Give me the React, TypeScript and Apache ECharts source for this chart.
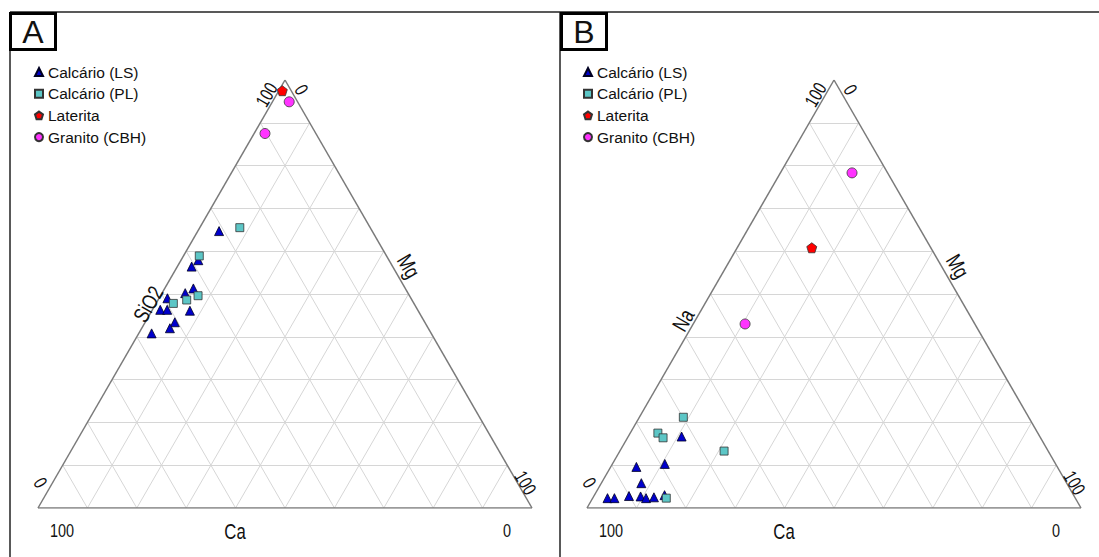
import React, { useEffect, useRef } from "react";
import * as echarts from "echarts";

// ---- DATA (percentages) ----
// Panel A: [Ca, SiO2, Mg]
const lsA: number[][] = [
  [31.0, 64.7, 4.3], [38.6, 57.9, 3.5], [40.7, 56.4, 2.9], [42.9, 51.3, 5.8],
  [45.1, 50.2, 4.7], [49.3, 49.0, 1.7], [52.1, 46.3, 1.6], [50.7, 46.3, 3.0],
  [46.2, 46.1, 7.7], [50.6, 43.4, 6.0], [52.3, 42.0, 5.7], [56.6, 40.8, 2.6],
];
const plA: number[][] = [
  [26.4, 65.5, 8.1], [37.9, 58.9, 3.2], [42.8, 49.6, 7.6], [45.6, 48.6, 5.8], [48.7, 47.8, 3.5],
];
const latA: number[][] = [[1.8, 97.5, 0.7]];
const graA: number[][] = [[1.7, 94.9, 3.4], [10.3, 87.5, 2.2]];

// Panel B: [Ca, Na, Mg]
const lsB: number[][] = [
  [72.5, 16.7, 10.8], [85.2, 9.6, 5.2], [79.1, 10.3, 10.6], [86.1, 5.8, 8.1],
  [94.7, 2.3, 3.0], [93.3, 2.3, 4.4], [90.1, 2.8, 7.1], [87.8, 2.7, 9.5],
  [86.9, 2.3, 10.8], [85.2, 2.5, 12.3], [82.8, 3.0, 14.2],
];
const plB: number[][] = [
  [69.9, 21.2, 8.9], [76.9, 17.5, 5.6], [76.4, 16.4, 7.2], [65.6, 13.3, 21.1], [82.8, 2.3, 14.9],
];
const latB: number[][] = [[24.1, 60.8, 15.1]];
const graB: number[][] = [[7.2, 78.3, 14.5], [46.5, 43.0, 10.5]];

const seriesNames = ["Calcário (LS)", "Calcário (PL)", "Laterita", "Granito (CBH)"];
const gridTicks = [10, 20, 30, 40, 50, 60, 70, 80, 90];

// ---- helpers ----
const S3 = Math.sqrt(3) / 2;
// [Ca, Top, Mg] -> cartesian (Ca at bottom-left, Top at apex, Mg at bottom-right)
const toXY = (p: number[]) => {
  const sum = p[0] + p[1] + p[2];
  const t = p[1] / sum;
  const m = p[2] / sum;
  return [m + t / 2, t * S3];
};

const gridCoords = () => {
  const out: any[] = [];
  gridTicks.forEach((v) => {
    const t = v / 100;
    out.push({ coords: [toXY([1 - t, t, 0]), toXY([0, t, 1 - t])] });
    out.push({ coords: [toXY([1 - t, 0, t]), toXY([0, 1 - t, t])] });
    out.push({ coords: [toXY([t, 0, 1 - t]), toXY([t, 1 - t, 0])] });
  });
  return out;
};
const outlineCoords = () => [
  { coords: [toXY([100, 0, 0]), toXY([0, 100, 0])] },
  { coords: [toXY([0, 100, 0]), toXY([0, 0, 100])] },
  { coords: [toXY([0, 0, 100]), toXY([100, 0, 0])] },
];

const PENT = "path://M0,-1L0.951,-0.309L0.588,0.809L-0.588,0.809L-0.951,-0.309Z";
const styles = [
  { symbol: "triangle", symbolSize: 9, color: "#0000CC", border: "#000022" },
  { symbol: "rect", symbolSize: 8, color: "#5CC6C6", border: "#333333" },
  { symbol: PENT, symbolSize: 10, color: "#FF0000", border: "#333333" },
  { symbol: "circle", symbolSize: 10, color: "#FF33FF", border: "#333333" },
];

const SANS = "'Liberation Sans', Arial, sans-serif";

export default function App() {
  const ref = useRef<HTMLDivElement>(null);
  useEffect(() => {
    if (!ref.current) return;
    const chart = echarts.init(ref.current, undefined, { renderer: "svg" });
    const panels = [
      { left: 38, sets: [lsA, plA, latA, graA] },
      { left: 587, sets: [lsB, plB, latB, graB] },
    ];
    const series: any[] = [];
    panels.forEach((p, i) => {
      series.push({
        type: "lines", coordinateSystem: "cartesian2d", xAxisIndex: i, yAxisIndex: i,
        data: gridCoords(), silent: true, z: 1,
        lineStyle: { color: "#d6d6d6", width: 1, opacity: 1 },
      });
      series.push({
        type: "lines", coordinateSystem: "cartesian2d", xAxisIndex: i, yAxisIndex: i,
        data: outlineCoords(), silent: true, z: 2,
        lineStyle: { color: "#7a7a7a", width: 1.5, opacity: 1 },
      });
      p.sets.forEach((set, k) => {
        const st = styles[k];
        series.push({
          type: "scatter", name: seriesNames[k], xAxisIndex: i, yAxisIndex: i,
          symbol: st.symbol, symbolSize: st.symbolSize, z: 5,
          itemStyle: { color: st.color, borderColor: st.border, borderWidth: 0.8, opacity: 1 },
          data: set.map(toXY),
        });
      });
    });

    const txt = (x: number, y: number, text: string, size: number, rot = 0, sx = 0.76) => ({
      type: "text", x, y, rotation: (rot * Math.PI) / 180, scaleX: sx, z: 10,
      style: { text, fill: "#111", font: `${size}px ${SANS}`, align: "center", verticalAlign: "middle" },
    });
    const labelsFor = (dx: number, top: string) => [
      txt(62 + dx, 531, "100", 19),
      txt(235 + dx, 531, "Ca", 22),
      txt(507 + dx, 531, "0", 19),
      txt(40 + dx, 483, "0", 19, -60),
      txt(525 + dx, 483, "100", 19, -60),
      txt(267 + dx, 95, "100", 19, 60),
      txt(301 + dx, 90, "0", 19, -60),
      txt(409 + dx, 266, "Mg", 22, -60),
      top === "SiO2" ? txt(148, 304, "SiO2", 22, 60) : txt(683, 320, "Na", 22, 60),
    ];

    chart.setOption({
      animation: false,
      backgroundColor: "#ffffff",
      grid: panels.map((p) => ({ left: p.left, top: 80, width: 494, height: 428 })),
      xAxis: panels.map((_, i) => ({ type: "value", gridIndex: i, min: 0, max: 1, show: false })),
      yAxis: panels.map((_, i) => ({ type: "value", gridIndex: i, min: 0, max: S3, show: false })),
      legend: [34, 583].map((l) => ({
        left: l, top: 63, orient: "vertical", padding: 0, itemGap: 3.7,
        itemWidth: 8, itemHeight: 8, selectedMode: false,
        data: seriesNames,
        textStyle: { fontFamily: SANS, fontSize: 15.5, lineHeight: 18, color: "#111" },
      })),
      graphic: [
        { type: "line", shape: { x1: 10, y1: 12, x2: 1099, y2: 12 }, style: { stroke: "#222", lineWidth: 1.5 } },
        { type: "line", shape: { x1: 10, y1: 12, x2: 10, y2: 560 }, style: { stroke: "#222", lineWidth: 1.5 } },
        { type: "line", shape: { x1: 560, y1: 12, x2: 560, y2: 560 }, style: { stroke: "#222", lineWidth: 1.5 } },
        { type: "rect", shape: { x: 10.5, y: 13.5, width: 45, height: 36 }, style: { fill: "#fff", stroke: "#000", lineWidth: 3 }, z: 9 },
        { type: "rect", shape: { x: 561.5, y: 13.5, width: 45, height: 36 }, style: { fill: "#fff", stroke: "#000", lineWidth: 3 }, z: 9 },
        txt(33, 32, "A", 32, 0, 1),
        txt(584, 32, "B", 32, 0, 1),
        ...labelsFor(0, "SiO2"),
        ...labelsFor(549, "Na"),
      ],
      series,
    });
    return () => chart.dispose();
  }, []);
  return (
    <div
      ref={ref}
      style={{ position: "fixed", left: 0, top: 0, width: 1099, height: 557, background: "#fff" }}
    />
  );
}
